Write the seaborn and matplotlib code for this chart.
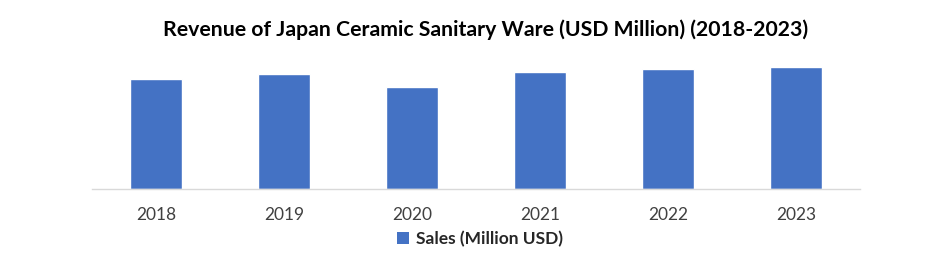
import matplotlib
matplotlib.use("Agg")
import matplotlib.pyplot as plt
import seaborn as sns
import pandas as pd
from matplotlib.patches import Patch

years = ["2018", "2019", "2020", "2021", "2022", "2023"]
sales = [1090, 1140, 1010, 1160, 1190, 1210]
series_name = "Sales (Million USD)"
title = "Revenue of Japan Ceramic Sanitary Ware (USD Million) (2018-2023)"

sns.set_theme(style="white")
plt.rcParams['font.family'] = ['Lato', 'DejaVu Sans']

df = pd.DataFrame({"Year": years, "Sales": sales})
color = "#4472C4"

fig = plt.figure(figsize=(9.41, 2.67), dpi=100)
ax = fig.add_axes([92/941, 1 - 189/267, (860-92)/941, (189-50)/267])
sns.barplot(data=df, x="Year", y="Sales", color=color, width=0.4, saturation=1, ax=ax)
ax.set_ylim(0, 1380)
ax.set_xlim(-0.5, 5.5)
for s in ["top", "right", "left"]:
    ax.spines[s].set_visible(False)
ax.spines["bottom"].set_color("#d9d9d9")
ax.spines["bottom"].set_linewidth(1)
ax.set_yticks([])
ax.set_xlabel("")
ax.set_ylabel("")
ax.tick_params(axis="x", length=0, pad=13, labelsize=12.5, colors="#404040")

fig.text(486/941, 1 - 30/267, title, ha="center", va="center", fontsize=15.3, fontweight="bold", color="black")
handles = [Patch(facecolor=color, edgecolor="none", label=series_name)]
fig.legend(handles=handles, loc="center", bbox_to_anchor=(480/941, 1 - 239/267), frameon=False,
           prop={"size": 12.5, "weight": "bold"}, handlelength=0.7, handleheight=0.7, handletextpad=0.4)
fig.savefig("out.png", dpi=100)
